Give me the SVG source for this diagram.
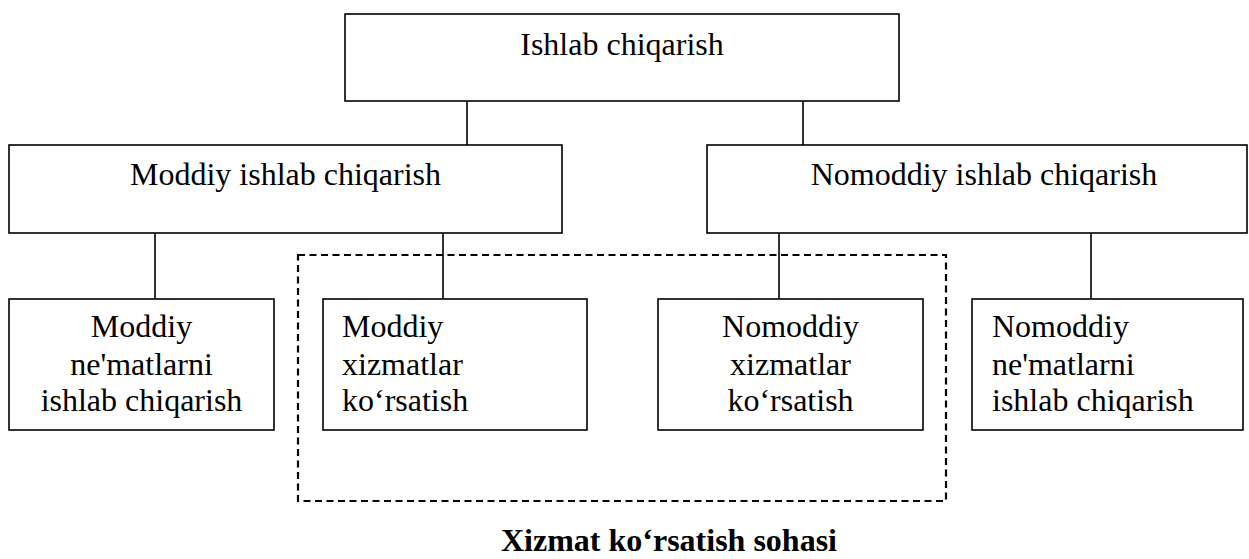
<svg xmlns="http://www.w3.org/2000/svg" width="1249" height="559" viewBox="0 0 1249 559">
<style>
.box{fill:#fff;stroke:#000;stroke-width:1.6}
.ln{stroke:#000;stroke-width:1.6;fill:none}
.dash{fill:none;stroke:#000;stroke-width:2.2;stroke-dasharray:7 4.5}
.c{text-anchor:middle}
.b{font-weight:bold}
</style>
<rect width="1249" height="559" fill="#fff"/>
<g id="connectors">
<line class="ln" x1="467" y1="101" x2="467" y2="145"/>
<line class="ln" x1="803" y1="101" x2="803" y2="145"/>
<line class="ln" x1="155" y1="233" x2="155" y2="299"/>
<line class="ln" x1="443" y1="233" x2="443" y2="299"/>
<line class="ln" x1="779" y1="233" x2="779" y2="299"/>
<line class="ln" x1="1091" y1="233" x2="1091" y2="299"/>
</g>
<g font-family="Liberation Serif, Times New Roman, DejaVu Serif, serif" font-size="32" fill="#000">
<g id="service-area">
<rect class="dash" x="298" y="255" width="648" height="246"/>
<text class="b c" x="669" y="551">Xizmat ko‘rsatish sohasi</text>
</g>
<g id="ishlab">
<rect class="box" x="345" y="14" width="554" height="87"/>
<text class="c" x="622" y="55">Ishlab chiqarish</text>
</g>
<g id="moddiy">
<rect class="box" x="9" y="145" width="553" height="88"/>
<text class="c" x="285.5" y="185">Moddiy ishlab chiqarish</text>
</g>
<g id="nomoddiy">
<rect class="box" x="707" y="145" width="540" height="88"/>
<text class="c" x="984" y="185">Nomoddiy ishlab chiqarish</text>
</g>
<g id="moddiy-nematlar">
<rect class="box" x="9" y="299" width="265" height="131"/>
<text class="c" x="141.5" y="337">Moddiy</text>
<text class="c" x="141.5" y="375">ne'matlarni</text>
<text class="c" x="141.5" y="411">ishlab chiqarish</text>
</g>
<g id="moddiy-xizmatlar">
<rect class="box" x="323" y="299" width="264" height="131"/>
<text x="342" y="337">Moddiy</text>
<text x="342" y="375">xizmatlar</text>
<text x="342" y="411">ko‘rsatish</text>
</g>
<g id="nomoddiy-xizmatlar">
<rect class="box" x="658" y="299" width="265" height="131"/>
<text class="c" x="790.5" y="337">Nomoddiy</text>
<text class="c" x="790.5" y="375">xizmatlar</text>
<text class="c" x="790.5" y="411">ko‘rsatish</text>
</g>
<g id="nomoddiy-nematlar">
<rect class="box" x="972" y="299" width="271" height="131"/>
<text x="992" y="337">Nomoddiy</text>
<text x="992" y="375">ne'matlarni</text>
<text x="992" y="411">ishlab chiqarish</text>
</g>
</g>
</svg>
